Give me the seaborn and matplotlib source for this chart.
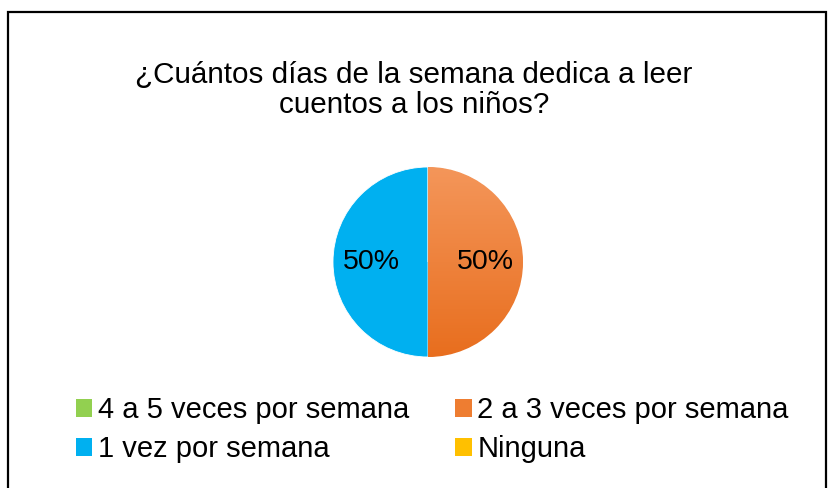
import numpy as np
import matplotlib.pyplot as plt
import matplotlib.patches as mpatches
import matplotlib.colors as mcolors
import seaborn as sns

sns.set_theme(style="white")
plt.rcParams['font.family'] = ['Liberation Sans', 'DejaVu Sans']
plt.rcParams['text.color'] = 'black'

# data
title = "¿Cuántos días de la semana dedica a leer\ncuentos a los niños?"
categories = ["4 a 5 veces por semana", "2 a 3 veces por semana", "1 vez por semana", "Ninguna"]
values = [0, 1, 1, 0]
colors = ["#92D050", "#EE7D31", "#00B0F0", "#FFC000"]
# top / bottom tones of the office-style gradients
grad_top = ["#A9DB75", "#F4965A", "#00B0F0", "#FFD24D"]
grad_bot = ["#7DBF3A", "#E86E1E", "#00B0F0", "#E6AC00"]

W, H = 834, 488
fig = plt.figure(figsize=(W / 100, H / 100), dpi=100)
fig.patch.set_facecolor("white")

# chart frame (bottom edge runs off the picture)
frame = mpatches.Rectangle((8 / W, -0.1), (826 - 8) / W, 1.1 - 12 / H,
                           transform=fig.transFigure, fill=False,
                           edgecolor="black", linewidth=1.6)
fig.patches.append(frame)

fig.text(414 / W, 1 - 90 / H, title, ha="center", va="center",
         multialignment="center", fontsize=21.3, linespacing=1.08, color="black")

# pie axes centred at (428, 262), radius ~95 px
cx, cy, r = 428, 262, 95
ax = fig.add_axes([(cx - r) / W, 1 - (cy + r) / H, 2 * r / W, 2 * r / H])

def pct(p):
    return "" if p < 0.5 else "{:.0f}%".format(p)

wedges, texts, autotexts = ax.pie(values, colors=colors, startangle=90, counterclock=False,
                                  autopct=pct, pctdistance=0.6,
                                  wedgeprops=dict(edgecolor="white", linewidth=0.6),
                                  textprops=dict(fontsize=20.5, color="black"))
ax.axis("off")

# vertical gradient fill inside each visible wedge
for w, c1, c2, v in zip(wedges, grad_top, grad_bot, values):
    if v == 0 or c1 == c2:
        continue
    t = np.linspace(0, 1, 256)[:, None]
    a = np.array(mcolors.to_rgb(c1))
    b = np.array(mcolors.to_rgb(c2))
    img = (a * (1 - t) + b * t)[:, None, :].repeat(2, axis=1)
    im = ax.imshow(img, extent=(-1, 1, -1, 1), origin="upper", aspect="auto", zorder=w.get_zorder())
    im.set_clip_path(w)
for at in autotexts:
    at.set_zorder(5)
ax.set_xlim(-1, 1)
ax.set_ylim(-1, 1)

# legend, row-major like the original (matplotlib fills columns first)
handles = [mpatches.Patch(facecolor=c, edgecolor="none") for c in colors]
order = [0, 2, 1, 3]
fig.legend([handles[i] for i in order], [categories[i] for i in order],
           ncol=2, loc="upper left", bbox_to_anchor=(76 / W, 1 - 396 / H),
           frameon=False, fontsize=21, handlelength=0.56, handleheight=0.56,
           handletextpad=0.2, columnspacing=1.57, labelspacing=0.38, borderpad=0,
           borderaxespad=0, labelcolor="black")

fig.savefig("out.png", dpi=100, facecolor="white")
